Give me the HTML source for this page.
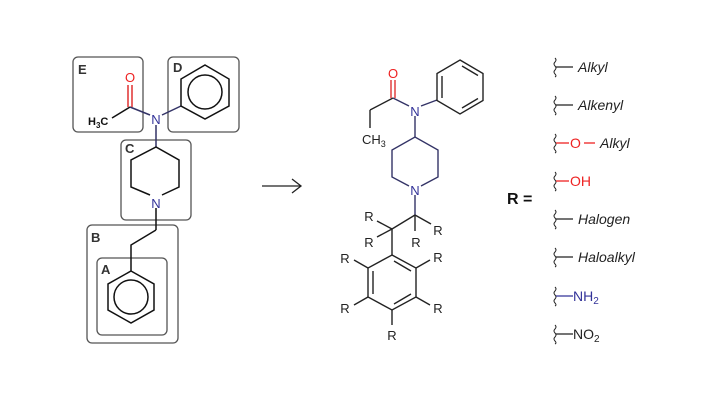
<!DOCTYPE html>
<html><head><meta charset="utf-8"><style>
html,body{margin:0;padding:0;background:#fff;}
svg{display:block;}
text{font-family:"Liberation Sans",Arial,sans-serif;}
</style></head><body>
<svg width="714" height="401" viewBox="0 0 714 401" xmlns="http://www.w3.org/2000/svg">
<g fill="none" stroke="#555" stroke-width="1.3">
<rect x="73" y="57" width="70" height="75" rx="5"/>
<rect x="168" y="57" width="71" height="75" rx="5"/>
<rect x="121" y="140" width="70" height="80" rx="5"/>
<rect x="87" y="225" width="91" height="118" rx="5"/>
<rect x="97" y="258" width="70" height="77" rx="5"/>
</g>
<g font-size="13" font-weight="bold" fill="#333">
<text x="78" y="74">E</text><text x="173" y="72">D</text><text x="125" y="153">C</text>
<text x="91" y="242">B</text><text x="101" y="274">A</text>
</g>
<g stroke="#111" stroke-width="1.5" fill="none">
<line x1="112" y1="118" x2="130" y2="107"/>
<line x1="181" y1="106" x2="162" y2="115" stroke="#336"/>
<line x1="130" y1="107" x2="150" y2="115" stroke="#336"/>
<line x1="156" y1="125" x2="156" y2="147" stroke="#336"/>
<polygon points="205,65 229,79 229,106 205,119 181,106 181,79"/>
<circle cx="205" cy="92" r="17"/>
<polyline points="150,195 131,187 131,160 156,147 179,160 179,187 162,195"/>
<line x1="156" y1="208" x2="156" y2="230"/>
<polyline points="156,230 131,245 131,271"/>
<polygon points="131,271 154,284 154,310 131,323 108,310 108,284"/>
<circle cx="131" cy="297" r="17"/>
</g>
<g stroke="#d22" stroke-width="1.4"><line x1="128" y1="85" x2="128" y2="107"/><line x1="132" y1="85" x2="132" y2="107"/></g>
<text x="130" y="82" font-size="13" fill="#e22" text-anchor="middle">O</text>
<text x="156" y="124" font-size="13" fill="#339" text-anchor="middle">N</text>
<text x="156" y="208" font-size="13" fill="#339" text-anchor="middle">N</text>
<text x="88" y="125" font-size="11" font-weight="bold" fill="#111">H<tspan font-size="8" dy="3">3</tspan><tspan dy="-3">C</tspan></text>
<g stroke="#222" stroke-width="1.3" fill="none"><line x1="262" y1="186" x2="301" y2="186"/><polyline points="292,179 301,186 292,193"/></g>
<g stroke="#222" stroke-width="1.4" fill="none">
<line x1="370" y1="128" x2="370" y2="110"/>
<line x1="370" y1="110" x2="393" y2="98"/>
<line x1="393" y1="98" x2="409" y2="106" stroke="#336"/>
<line x1="421" y1="106" x2="437" y2="100" stroke="#336"/>
<line x1="415" y1="116" x2="415" y2="137" stroke="#336"/>
<polygon points="460,60 483,73.5 483,100.5 460,114 437,100.5 437,73.5"/>
<line x1="442" y1="76" x2="442" y2="98"/><line x1="462" y1="66" x2="478" y2="75.5"/><line x1="478" y1="98.5" x2="462" y2="108"/>
<polyline points="409,186 392,177 392,150 415,137 438,150 438,177 421,186" stroke="#336"/>
<line x1="415" y1="195" x2="415" y2="215" stroke="#336"/>
<line x1="415" y1="215" x2="392" y2="229"/>
<line x1="392" y1="229" x2="392" y2="255"/>
<line x1="415" y1="215" x2="431" y2="224"/><line x1="415" y1="215" x2="415" y2="231"/>
<line x1="392" y1="229" x2="377" y2="221"/><line x1="392" y1="229" x2="377" y2="237"/>
<polygon points="392,255 416,268 416,297 392,310 368,297 368,268"/>
<line x1="394" y1="261" x2="411" y2="271"/><line x1="411" y1="294" x2="394" y2="304"/><line x1="373" y1="271" x2="373" y2="294"/>
<line x1="368" y1="268" x2="354" y2="260"/><line x1="416" y1="268" x2="430" y2="260"/>
<line x1="368" y1="297" x2="354" y2="305"/><line x1="416" y1="297" x2="430" y2="305"/>
<line x1="392" y1="310" x2="392" y2="325"/>
</g>
<g stroke="#d22" stroke-width="1.3"><line x1="391" y1="80" x2="391" y2="98"/><line x1="395" y1="80" x2="395" y2="98"/></g>
<text x="393" y="78" font-size="13" fill="#e22" text-anchor="middle">O</text>
<text x="415" y="116" font-size="13" fill="#339" text-anchor="middle">N</text>
<text x="415" y="195" font-size="13" fill="#339" text-anchor="middle">N</text>
<text x="362" y="144" font-size="13" fill="#222">CH<tspan font-size="9" dy="3">3</tspan></text>
<g font-size="13" fill="#222" text-anchor="middle">
<text x="369" y="221">R</text><text x="369" y="247">R</text><text x="438" y="235">R</text><text x="416" y="247">R</text>
<text x="345" y="263">R</text><text x="438" y="262">R</text><text x="345" y="313">R</text><text x="438" y="313">R</text><text x="392" y="340">R</text>
</g>
<text x="507" y="204" font-size="16" font-weight="bold" fill="#111">R =</text>
<g stroke="#222" stroke-width="1" fill="none">
<path d="M555,58 q2,2 0,4 q-2,2 0,4 q2,2 0,4 q-2,2 0,4 q2,2 0,3"/>
<path d="M555,96 q2,2 0,4 q-2,2 0,4 q2,2 0,4 q-2,2 0,4 q2,2 0,3"/>
<path d="M555,134 q2,2 0,4 q-2,2 0,4 q2,2 0,4 q-2,2 0,4 q2,2 0,3"/>
<path d="M555,172 q2,2 0,4 q-2,2 0,4 q2,2 0,4 q-2,2 0,4 q2,2 0,3"/>
<path d="M555,210 q2,2 0,4 q-2,2 0,4 q2,2 0,4 q-2,2 0,4 q2,2 0,3"/>
<path d="M555,248 q2,2 0,4 q-2,2 0,4 q2,2 0,4 q-2,2 0,4 q2,2 0,3"/>
<path d="M555,287 q2,2 0,4 q-2,2 0,4 q2,2 0,4 q-2,2 0,4 q2,2 0,3"/>
<path d="M555,325 q2,2 0,4 q-2,2 0,4 q2,2 0,4 q-2,2 0,4 q2,2 0,3"/>
</g>
<g stroke-width="1.3">
<line x1="556" y1="67" x2="573" y2="67" stroke="#222"/>
<line x1="556" y1="105" x2="573" y2="105" stroke="#222"/>
<line x1="556" y1="143" x2="569" y2="143" stroke="#e22"/>
<line x1="584" y1="143" x2="595" y2="143" stroke="#e22"/>
<line x1="556" y1="181" x2="569" y2="181" stroke="#e22"/>
<line x1="556" y1="219" x2="573" y2="219" stroke="#222"/>
<line x1="556" y1="257" x2="573" y2="257" stroke="#222"/>
<line x1="556" y1="296" x2="573" y2="296" stroke="#339"/>
<line x1="556" y1="334" x2="573" y2="334" stroke="#222"/>
</g>
<g font-size="14" fill="#222">
<text x="578" y="72" font-style="italic">Alkyl</text>
<text x="578" y="110" font-style="italic">Alkenyl</text>
<text x="570" y="148" fill="#e22">O</text>
<text x="600" y="148" font-style="italic">Alkyl</text>
<text x="570" y="186" fill="#e22">OH</text>
<text x="578" y="224" font-style="italic">Halogen</text>
<text x="578" y="262" font-style="italic">Haloalkyl</text>
<text x="573" y="301" fill="#339">NH<tspan font-size="10" dy="3">2</tspan></text>
<text x="573" y="339">NO<tspan font-size="10" dy="3">2</tspan></text>
</g>
</svg>
</body></html>
